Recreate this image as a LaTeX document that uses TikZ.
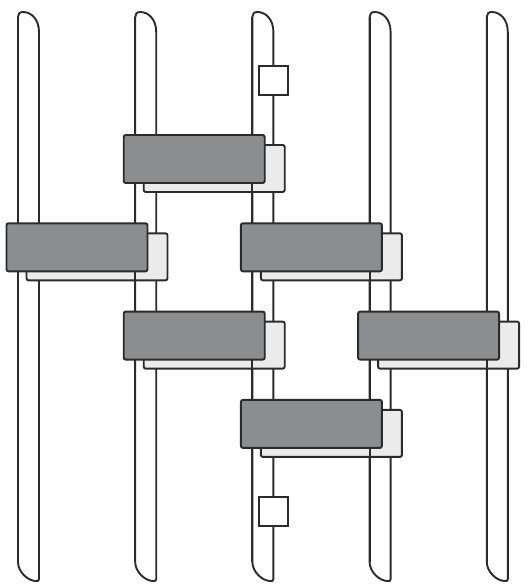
\documentclass[tikz,border=0pt]{standalone}
\usepackage{xcolor}
\usepackage{tikz}
\usetikzlibrary{positioning, calc}

\definecolor{slabdark}{HTML}{8C8D8F}
\definecolor{slablight}{HTML}{EBEBEB}
\definecolor{inkline}{HTML}{2B2B2B}

\tikzset{
  strand/.style={draw=inkline, line width=1.9pt},
  slabback/.style={draw=inkline, line width=1.9pt, fill=slablight, rounded corners=2pt},
  slabfront/.style={draw=inkline, line width=1.9pt, fill=slabdark, rounded corners=2pt},
  marker/.style={draw=inkline, line width=1.9pt, fill=white}
}

\begin{document}
\begin{tikzpicture}[x=1pt, y=-1pt]
          \useasboundingbox (0,0) rectangle (528,585);
          % strands (outline)
          \foreach \i in {0,...,4} {
            \pgfmathsetmacro{\xl}{18+117.2*\i}
            \pgfmathsetmacro{\xr}{\xl+21}
            \draw[strand] (\xr,579) -- (\xr,32)
              .. controls (\xr,19) and (\xl+13,12) .. (\xl+5,12)
              .. controls (\xl+1.5,12) and (\xl,14) .. (\xl,17)
              -- (\xl,562)
              .. controls (\xl,572) and (\xl+10,581) .. (\xl+18,581)
              .. controls (\xl+20,581) and (\xr,581) .. (\xr,579) -- cycle;
          }
          % back faces
          \foreach \c/\r in {1/0, 0/1, 2/1, 1/2, 3/2, 2/3} {
            \pgfmathsetmacro{\bx}{18+117.2*\c-11.5}
            \pgfmathsetmacro{\by}{135+88.3*\r}
            \draw[slabback] (\bx+20,\by+10) rectangle (\bx+161,\by+57);
          }
          % front lines of the strands
          \foreach \i in {0,...,4} {
            \pgfmathsetmacro{\xl}{18+117.2*\i}
            \draw[strand] (\xl,17) -- (\xl,562);
          }
          % front faces
          \foreach \c/\r in {1/0, 0/1, 2/1, 1/2, 3/2, 2/3} {
            \pgfmathsetmacro{\bx}{18+117.2*\c-11.5}
            \pgfmathsetmacro{\by}{135+88.3*\r}
            \draw[slabfront] (\bx,\by) rectangle (\bx+141,\by+48);
          }
          % markers on the middle strand
          \foreach \my in {66, 497} {
            \draw[marker] (259,\my) rectangle (288,\my+29);
          }
        \end{tikzpicture}
\end{document}
